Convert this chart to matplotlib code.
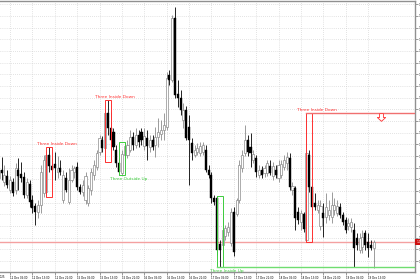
import numpy as np
import matplotlib.pyplot as plt
from matplotlib.path import Path
from matplotlib.patches import Rectangle
import matplotlib.transforms as mtransforms

# hourly bars
opens = [
    1.1722, 1.1730, 1.1718, 1.1724, 1.1710, 1.1718, 1.1710, 1.1730, 1.1726, 1.1723,
    1.1705, 1.1716, 1.1700, 1.1694, 1.1688, 1.1695, 1.1707, 1.1708, 1.1745, 1.1734,
    1.1736, 1.1728, 1.1732, 1.1700, 1.1722, 1.1698, 1.1720, 1.1728, 1.1733, 1.1713,
    1.1708, 1.1700, 1.1697, 1.1710, 1.1725, 1.1733, 1.1748, 1.1760, 1.1752, 1.1787,
    1.1772, 1.1768, 1.1750, 1.1737, 1.1727, 1.1745, 1.1745, 1.1750, 1.1763, 1.1755,
    1.1765, 1.1768, 1.1754, 1.1762, 1.1753, 1.1760, 1.1755, 1.1763, 1.1766, 1.1770,
    1.1773, 1.1825, 1.1820, 1.1882, 1.1806, 1.1802, 1.1780, 1.1790, 1.1773, 1.1757,
    1.1745, 1.1748, 1.1747, 1.1748, 1.1750, 1.1730, 1.1725, 1.1702, 1.1702, 1.1656,
    1.1655, 1.1664, 1.1668, 1.1657, 1.1688, 1.1686, 1.1700, 1.1732, 1.1747, 1.1760,
    1.1753, 1.1740, 1.1742, 1.1725, 1.1730, 1.1727, 1.1727, 1.1734, 1.1724, 1.1730,
    1.1722, 1.1725, 1.1733, 1.1737, 1.1742, 1.1710, 1.1712, 1.1688, 1.1678, 1.1686,
    1.1660, 1.1745, 1.1713, 1.1697, 1.1690, 1.1674, 1.1687, 1.1683, 1.1685, 1.1683,
    1.1690, 1.1687, 1.1693, 1.1685, 1.1680, 1.1674, 1.1673, 1.1670, 1.1662, 1.1650,
    1.1653, 1.1667, 1.1658, 1.1655, 1.1652,
]
highs = [
    1.1735, 1.1743, 1.1735, 1.1730, 1.1724, 1.1722, 1.1737, 1.1742, 1.1738, 1.1728,
    1.1722, 1.1720, 1.1705, 1.1697, 1.1700, 1.1735, 1.1745, 1.1750, 1.1753, 1.1742,
    1.1748, 1.1744, 1.1740, 1.1730, 1.1728, 1.1732, 1.1735, 1.1734, 1.1738, 1.1716,
    1.1720, 1.1728, 1.1715, 1.1732, 1.1740, 1.1750, 1.1765, 1.1764, 1.1790, 1.1800,
    1.1788, 1.1772, 1.1755, 1.1742, 1.1750, 1.1758, 1.1760, 1.1770, 1.1768, 1.1772,
    1.1770, 1.1772, 1.1772, 1.1770, 1.1765, 1.1765, 1.1773, 1.1782, 1.1780, 1.1787,
    1.1828, 1.1830, 1.1885, 1.1893, 1.1820, 1.1810, 1.1797, 1.1794, 1.1785, 1.1762,
    1.1755, 1.1757, 1.1758, 1.1758, 1.1755, 1.1735, 1.1728, 1.1705, 1.1704, 1.1660,
    1.1687, 1.1675, 1.1678, 1.1692, 1.1693, 1.1702, 1.1740, 1.1750, 1.1775, 1.1765,
    1.1767, 1.1750, 1.1745, 1.1735, 1.1734, 1.1735, 1.1740, 1.1740, 1.1738, 1.1735,
    1.1740, 1.1740, 1.1745, 1.1748, 1.1747, 1.1718, 1.1714, 1.1693, 1.1690, 1.1688,
    1.1787, 1.1750, 1.1715, 1.1707, 1.1700, 1.1700, 1.1697, 1.1707, 1.1700, 1.1708,
    1.1702, 1.1700, 1.1697, 1.1688, 1.1683, 1.1682, 1.1682, 1.1677, 1.1667, 1.1667,
    1.1670, 1.1670, 1.1667, 1.1660, 1.1660,
]
lows = [
    1.1715, 1.1720, 1.1714, 1.1712, 1.1707, 1.1704, 1.1706, 1.1710, 1.1718, 1.1702,
    1.1702, 1.1693, 1.1687, 1.1675, 1.1682, 1.1687, 1.1703, 1.1703, 1.1728, 1.1722,
    1.1720, 1.1722, 1.1725, 1.1697, 1.1708, 1.1696, 1.1718, 1.1722, 1.1710, 1.1706,
    1.1704, 1.1696, 1.1694, 1.1705, 1.1720, 1.1730, 1.1745, 1.1748, 1.1738, 1.1765,
    1.1750, 1.1750, 1.1733, 1.1725, 1.1725, 1.1740, 1.1742, 1.1748, 1.1750, 1.1752,
    1.1753, 1.1755, 1.1750, 1.1740, 1.1748, 1.1750, 1.1743, 1.1753, 1.1760, 1.1760,
    1.1770, 1.1815, 1.1818, 1.1802, 1.1793, 1.1785, 1.1772, 1.1760, 1.1715, 1.1740,
    1.1743, 1.1745, 1.1744, 1.1745, 1.1728, 1.1722, 1.1697, 1.1695, 1.1645, 1.1633,
    1.1652, 1.1660, 1.1664, 1.1654, 1.1644, 1.1684, 1.1697, 1.1728, 1.1744, 1.1744,
    1.1733, 1.1737, 1.1723, 1.1722, 1.1722, 1.1723, 1.1724, 1.1725, 1.1720, 1.1722,
    1.1718, 1.1722, 1.1730, 1.1730, 1.1710, 1.1705, 1.1670, 1.1676, 1.1670, 1.1668,
    1.1658, 1.1708, 1.1688, 1.1690, 1.1687, 1.1670, 1.1663, 1.1677, 1.1680, 1.1677,
    1.1685, 1.1684, 1.1682, 1.1675, 1.1667, 1.1670, 1.1668, 1.1633, 1.1650, 1.1647,
    1.1647, 1.1650, 1.1643, 1.1650, 1.1632,
]
closes = [
    1.1730, 1.1727, 1.1725, 1.1715, 1.1720, 1.1707, 1.1732, 1.1724, 1.1722, 1.1705,
    1.1718, 1.1698, 1.1692, 1.1688, 1.1695, 1.1728, 1.1740, 1.1745, 1.1734, 1.1730,
    1.1732, 1.1732, 1.1728, 1.1725, 1.1710, 1.1720, 1.1730, 1.1732, 1.1713, 1.1708,
    1.1715, 1.1724, 1.1712, 1.1728, 1.1735, 1.1747, 1.1762, 1.1752, 1.1787, 1.1772,
    1.1760, 1.1753, 1.1737, 1.1728, 1.1746, 1.1754, 1.1755, 1.1763, 1.1755, 1.1765,
    1.1758, 1.1760, 1.1764, 1.1754, 1.1760, 1.1753, 1.1763, 1.1768, 1.1770, 1.1775,
    1.1822, 1.1820, 1.1882, 1.1805, 1.1802, 1.1790, 1.1790, 1.1762, 1.1760, 1.1747,
    1.1750, 1.1752, 1.1754, 1.1755, 1.1730, 1.1725, 1.1702, 1.1698, 1.1650, 1.1650,
    1.1670, 1.1672, 1.1673, 1.1688, 1.1648, 1.1700, 1.1735, 1.1745, 1.1760, 1.1748,
    1.1747, 1.1746, 1.1728, 1.1730, 1.1725, 1.1732, 1.1737, 1.1727, 1.1734, 1.1725,
    1.1735, 1.1736, 1.1740, 1.1743, 1.1713, 1.1714, 1.1682, 1.1680, 1.1687, 1.1671,
    1.1747, 1.1713, 1.1693, 1.1693, 1.1695, 1.1694, 1.1682, 1.1693, 1.1690, 1.1695,
    1.1695, 1.1694, 1.1685, 1.1678, 1.1670, 1.1677, 1.1678, 1.1652, 1.1655, 1.1662,
    1.1663, 1.1655, 1.1652, 1.1652, 1.1658,
]

time_labels = ["12 Dec 05:00", "12 Dec 13:00", "12 Dec 21:00", "15 Dec 05:00",
               "15 Dec 13:00", "15 Dec 21:00", "16 Dec 05:00", "16 Dec 13:00",
               "16 Dec 21:00", "17 Dec 05:00", "17 Dec 13:00", "17 Dec 21:00",
               "18 Dec 05:00", "18 Dec 13:00", "18 Dec 21:00", "19 Dec 05:00",
               "19 Dec 13:00"]
first_label = "11 Dec 2025"

# candlestick patterns: first bar index, name, bullish?
pattern_start = [17, 38, 43, 78, 110]
pattern_name = ["Three Inside Down", "Three Inside Down", "Three Outside Up",
                "Three Inside Up", "Three Inside Down"]
pattern_bull = [False, False, True, True, False]

RED = "#ff3030"
GREEN = "#3ccc3c"

o = np.array(opens)
h = np.array(highs)
l = np.array(lows)
c = np.array(closes)
x = np.arange(len(o))
up = c >= o

fig = plt.figure(figsize=(4.2, 2.8), dpi=100)
ax = fig.add_axes([0, 8 / 280, 415 / 420, 271 / 280])
ax.set_xlim(0.42, 148.8)
ax.set_ylim(1.1628, 1.1899)

# grid
yticks = np.arange(1.18957, 1.1628, -0.001167)
xticks = [4 + 8 * k for k in range(len(time_labels))]
for t in yticks:
    ax.axhline(t, color="#c8c8c8", lw=0.5, ls=(0, (1, 2)), zorder=0)
for t in xticks:
    ax.axvline(t, color="#c8c8c8", lw=0.5, ls=(0, (1, 2)), zorder=0)

# candles
ax.vlines(x[up], l[up], h[up], color="#8c8c8c", lw=0.6, zorder=2)
ax.vlines(x[~up], l[~up], h[~up], color="black", lw=0.6, zorder=2)
ax.bar(x[up], c[up] - o[up], bottom=o[up], width=0.75, color="white",
       edgecolor="#8c8c8c", lw=0.5, zorder=3)
ax.bar(x[~up], o[~up] - c[~up], bottom=c[~up], width=0.75, color="black",
       edgecolor="black", lw=0.3, zorder=3)

# pattern boxes + labels
for s, name, bull in zip(pattern_start, pattern_name, pattern_bull):
    top = h[s:s + 3].max()
    bot = l[s:s + 3].min()
    col = GREEN if bull else RED
    ax.add_patch(Rectangle((s, bot), 2, top - bot, fill=False, ec=col, lw=0.7, zorder=4))
    if bull:
        ax.text(s + 3.6, bot - 0.00015, name, color=col, fontsize=3.1,
                ha="center", va="top", zorder=5)
    else:
        ax.text(s + 3.6, top + 0.0001, name, color=col, fontsize=3.1,
                ha="center", va="bottom", zorder=5)

# level lines from the last patterns
last_dn = pattern_start[4]
last_up = pattern_start[3]
ax.plot([last_dn, 150], [h[last_dn:last_dn + 3].max()] * 2, color="#f07070", lw=1.0, zorder=4)
ax.plot([last_up, 150], [l[last_up:last_up + 3].min()] * 2, color="#70dd70", lw=1.0, zorder=4)
ax.axhline(l[last_dn:last_dn + 3].min(), color="#f4a0a0", lw=1.0, zorder=1)

# hollow down arrow signal
arrow = Path([(-0.3, 0.6), (0.3, 0.6), (0.3, 0.0), (0.65, 0.0), (0.0, -0.6),
              (-0.65, 0.0), (-0.3, 0.0), (-0.3, 0.6)],
             [Path.MOVETO] + [Path.LINETO] * 6 + [Path.CLOSEPOLY])
ax.plot([len(o) + 1.5], [h[last_dn:last_dn + 3].max() - 0.0004], marker=arrow, ms=6,
        mfc="white", mec=RED, mew=0.6, zorder=5)

# axes styling
for side in ["left"]:
    ax.spines[side].set_visible(False)
for side in ["top", "right", "bottom"]:
    ax.spines[side].set_color("#909090")
    ax.spines[side].set_linewidth(1.0)

ax.yaxis.tick_right()
ax.set_yticks(yticks)
ax.set_yticklabels(["%.5f" % t for t in yticks])
ax.tick_params(axis="y", length=2, width=0.5, color="#707070", pad=0.5,
               labelsize=2.2, labelcolor="black")
ax.set_xticks(xticks)
ax.set_xticklabels(time_labels, ha="left")
ax.tick_params(axis="x", length=2, width=0.5, color="#707070", pad=0.8,
               labelsize=1.9, labelcolor="black")

trans = mtransforms.blended_transform_factory(ax.transData, ax.transAxes)
ax.text(-4, -0.012, first_label, transform=trans, fontsize=1.9, ha="left",
        va="top", clip_on=False)

# red price tag on the right axis
trans2 = mtransforms.blended_transform_factory(ax.transAxes, ax.transData)
ax.text(1.003, l[last_dn:last_dn + 3].min(), "1.16580", transform=trans2,
        fontsize=2.2, color="white", ha="left", va="center", clip_on=False,
        bbox=dict(fc="#cc1010", ec="none", pad=0.6))

fig.savefig("out.png", dpi=100)
